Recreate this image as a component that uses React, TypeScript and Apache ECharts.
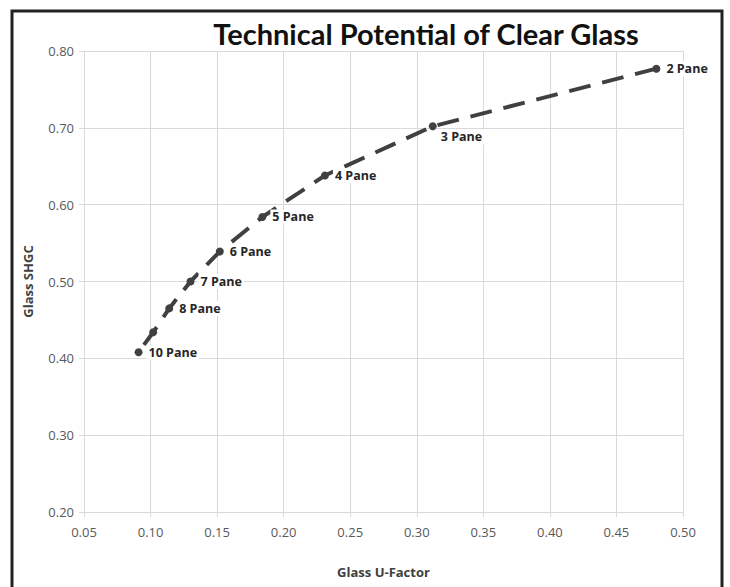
import React, { useEffect, useRef } from "react";
import * as echarts from "echarts";

const paneLabels = ["2 Pane", "3 Pane", "4 Pane", "5 Pane", "6 Pane", "7 Pane", "8 Pane", "", "10 Pane"];
const uFactor = [0.48, 0.312, 0.231, 0.184, 0.152, 0.13, 0.114, 0.102, 0.091];
const shgc = [0.777, 0.702, 0.638, 0.584, 0.539, 0.5, 0.465, 0.434, 0.408];

const titleText = "Technical Potential of Clear Glass";
const xName = "Glass U-Factor";
const yName = "Glass SHGC";

export default function App() {
  const ref = useRef<HTMLDivElement>(null);
  useEffect(() => {
    document.body.style.margin = "0";
    const chart = echarts.init(ref.current!, null, { renderer: "svg" });
    const data = uFactor.map((u, i) => {
      const item: any = { value: [u, shgc[i]], name: paneLabels[i] };
      if (i === 1) {
        item.label = { position: [10, 7], align: "left", verticalAlign: "top" };
      }
      return item;
    });
    const font = "Open Sans";
    chart.setOption({
      animation: false,
      backgroundColor: "#fff",
      graphic: [
        {
          type: "rect",
          shape: { x: 12, y: 11, width: 710, height: 620 },
          style: { fill: "none", stroke: "#222", lineWidth: 3 },
          z: 100,
        },
        {
          type: "text",
          x: 426,
          y: 33,
          style: {
            text: titleText,
            fill: "#111",
            font: "bold 29px Lato",
            textAlign: "center",
            textVerticalAlign: "middle",
          },
        },
      ],
      grid: { left: 84, right: 47, top: 51, bottom: 75 },
      xAxis: {
        type: "value",
        min: 0.05,
        max: 0.5,
        interval: 0.05,
        name: xName,
        nameLocation: "middle",
        nameGap: 53,
        nameTextStyle: { fontFamily: font, fontWeight: "bold", fontSize: 13, color: "#404040" },
        axisLine: { show: true, lineStyle: { color: "#d9d9d9" } },
        axisTick: { show: true, length: 5, lineStyle: { color: "#d9d9d9" } },
        splitLine: { show: true, lineStyle: { color: "#d9d9d9" } },
        axisLabel: {
          margin: 13,
          fontFamily: font,
          fontSize: 13,
          color: "#595959",
          formatter: (v: number) => v.toFixed(2),
        },
      },
      yAxis: {
        type: "value",
        min: 0.2,
        max: 0.8,
        interval: 0.1,
        name: yName,
        nameLocation: "middle",
        nameRotate: 90,
        nameGap: 50,
        nameTextStyle: { fontFamily: font, fontWeight: "bold", fontSize: 13, color: "#404040" },
        axisLine: { show: true, lineStyle: { color: "#d9d9d9" } },
        axisTick: { show: true, inside: false, length: 5, lineStyle: { color: "#d9d9d9" } },
        splitLine: { show: true, lineStyle: { color: "#d9d9d9" } },
        axisLabel: {
          margin: 10,
          fontFamily: font,
          fontSize: 13,
          color: "#595959",
          formatter: (v: number) => v.toFixed(2),
        },
      },
      series: [
        {
          type: "line",
          data,
          symbol: "circle",
          symbolSize: 8,
          lineStyle: { color: "#404040", width: 4, type: [22, 12] },
          itemStyle: { color: "#404040" },
          label: {
            show: true,
            position: "right",
            distance: 4,
            formatter: (p: any) => p.name,
            fontFamily: font,
            fontWeight: "bold",
            fontSize: 12.5,
            color: "#262626",
            backgroundColor: "#fff",
            padding: [1, 2],
          },
        },
      ],
    });
    return () => chart.dispose();
  }, []);
  return <div ref={ref} style={{ width: 730, height: 587, position: "absolute", left: 0, top: 0 }} />;
}
